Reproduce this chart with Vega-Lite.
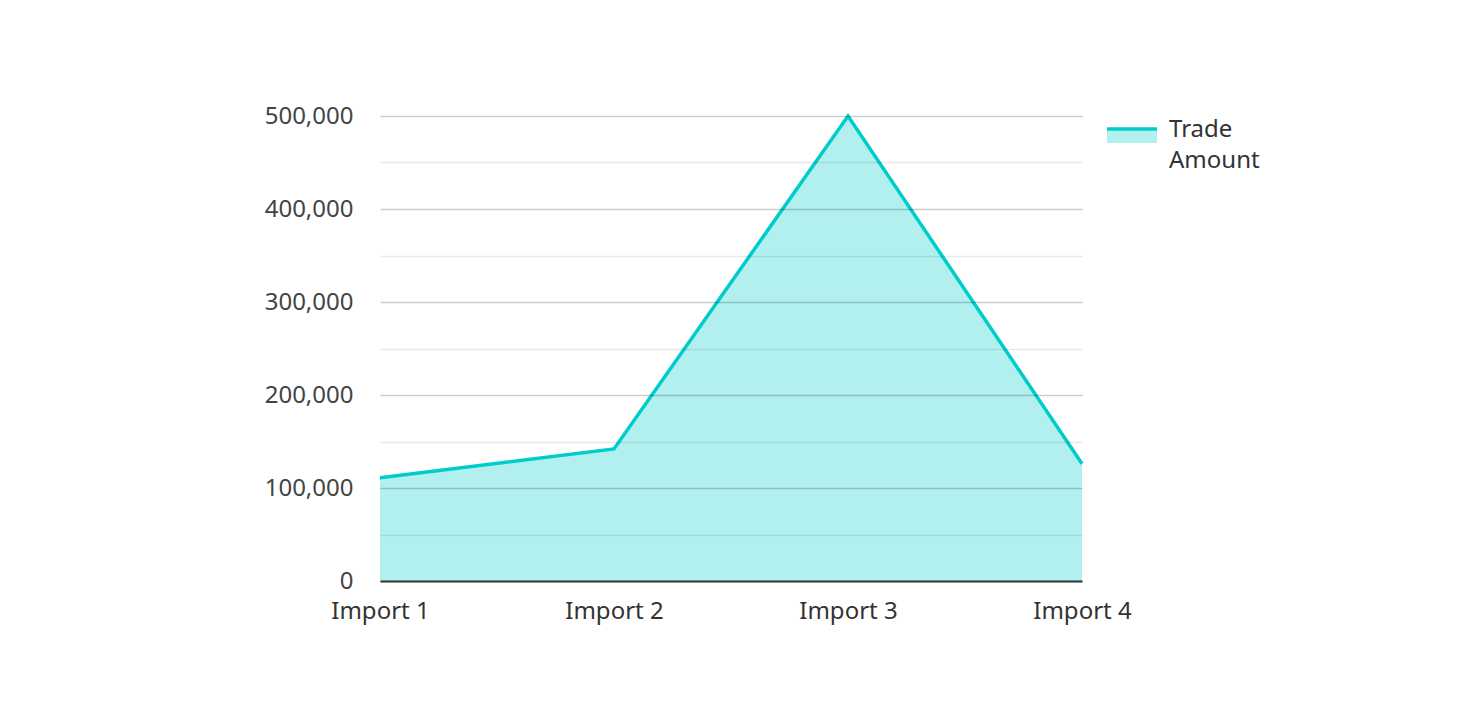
{
  "$schema": "https://vega.github.io/schema/vega-lite/v6.json",
  "autosize": {"type": "none"},
  "padding": {"left": 380, "top": 116, "right": 376, "bottom": 121},
  "width": 702,
  "height": 465,
  "background": "#ffffff",
  "config": {
    "font": "Noto Sans",
    "view": {"stroke": null}
  },
  "data": {
    "values": [
      {"category": "Import 1", "value": 111000, "series": "Trade Amount"},
      {"category": "Import 2", "value": 142000, "series": "Trade Amount"},
      {"category": "Import 3", "value": 500000, "series": "Trade Amount"},
      {"category": "Import 4", "value": 126000, "series": "Trade Amount"}
    ]
  },
  "encoding": {
    "x": {
      "field": "category",
      "type": "ordinal",
      "scale": {"type": "point", "padding": 0},
      "axis": {
        "title": null,
        "labelAngle": 0,
        "ticks": false,
        "domainColor": "#333333",
        "domainWidth": 2,
        "labelFontSize": 24,
        "labelColor": "#333333",
        "labelPadding": 18,
        "grid": false,
        "zindex": 2
      }
    },
    "y": {
      "field": "value",
      "type": "quantitative",
      "scale": {"domain": [0, 500000], "nice": false},
      "axis": {
        "title": null,
        "values": [0, 50000, 100000, 150000, 200000, 250000, 300000, 350000, 400000, 450000, 500000],
        "labelExpr": "datum.value % 100000 === 0 ? format(datum.value, ',') : ''",
        "domain": false,
        "ticks": false,
        "labelFontSize": 24,
        "labelColor": "#444444",
        "labelPadding": 27,
        "grid": true,
        "gridColor": {"condition": {"test": "datum.value % 100000 === 0", "value": "rgba(0,0,0,0.2)"}, "value": "rgba(0,0,0,0.09)"},
        "gridWidth": 1.5,
        "zindex": 1
      }
    }
  },
  "layer": [
    {
      "mark": {"type": "area"},
      "encoding": {
        "fill": {
          "field": "series",
          "type": "nominal",
          "scale": {"range": ["#b2f0f0"]},
          "legend": {
            "title": null,
            "orient": "none",
            "legendX": 725,
            "legendY": -13,
            "symbolType": "M-1,-0.04L1,-0.04L1,0.52L-1,0.52Z",
            "symbolSize": 2500,
            "symbolStrokeColor": "#00CCCC",
            "symbolStrokeWidth": 3.5,
            "symbolDash": [50, 80],
            "labelExpr": "split(datum.label, ' ')",
            "labelFontSize": 24,
            "labelColor": "#333333",
            "labelOffset": 10,
            "labelLimit": 300,
            "encode": {"labels": {"update": {"lineHeight": {"value": 31}}}}
          }
        }
      }
    },
    {
      "mark": {"type": "line", "strokeWidth": 3.5},
      "encoding": {
        "stroke": {
          "field": "series",
          "type": "nominal",
          "scale": {"range": ["#00CCCC"]},
          "legend": null
        }
      }
    }
  ]
}
